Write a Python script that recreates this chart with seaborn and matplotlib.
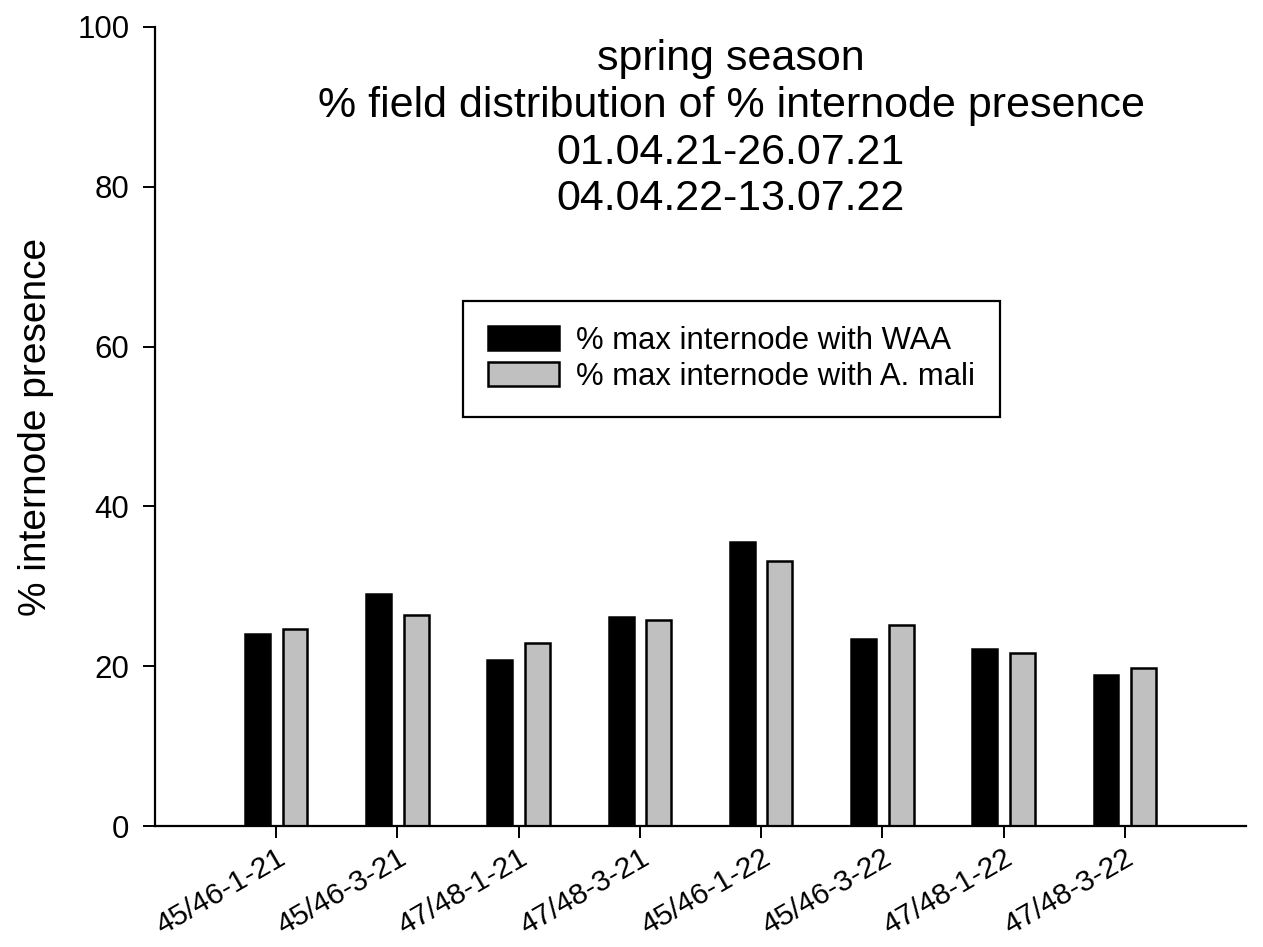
import matplotlib
matplotlib.use("Agg")
import matplotlib.pyplot as plt
import seaborn as sns
import pandas as pd

sites = ["45/46-1-21", "45/46-3-21", "47/48-1-21", "47/48-3-21",
         "45/46-1-22", "45/46-3-22", "47/48-1-22", "47/48-3-22"]
waa = [24.0, 29.0, 20.8, 26.1, 35.6, 23.4, 22.2, 18.9]
amali = [24.7, 26.4, 22.9, 25.8, 33.2, 25.2, 21.6, 19.8]
series_names = ["% max internode with WAA", "% max internode with A. mali"]
y_ticks = [0, 20, 40, 60, 80, 100]
title_lines = ["spring season", "% field distribution of % internode presence",
               "01.04.21-26.07.21", "04.04.22-13.07.22"]

df = pd.DataFrame({
    "site": sites * 2,
    "value": waa + amali,
    "series": [series_names[0]] * len(sites) + [series_names[1]] * len(sites),
})

sns.set_theme(style="ticks")
plt.rcParams["font.family"] = ["Liberation Sans", "DejaVu Sans"]
plt.rcParams["text.color"] = "black"

W, H = 1263, 947
fig = plt.figure(figsize=(W / 100, H / 100), dpi=100)
ax = fig.add_axes([155 / W, 1 - 826 / H, (1246 - 155) / W, (826 - 27) / H])

sns.barplot(data=df, x="site", y="value", hue="series", order=sites,
            hue_order=series_names, palette=["#000000", "#c0c0c0"],
            width=0.62, gap=0.34, edgecolor="black", linewidth=1.8,
            saturation=1, ax=ax)

ax.set_xlim(-1, 8)
ax.set_ylim(0, 100)
ax.set_yticks(y_ticks)
ax.set_yticklabels([str(v) for v in y_ticks], fontsize=22.5)
ax.set_xticks(range(len(sites)))
ax.set_xticklabels(sites, fontsize=21.5, rotation=30, ha="right",
                   rotation_mode="anchor")
ax.set_xlabel("")
ax.set_ylabel("% internode presence", fontsize=28, labelpad=17, color="black")
for s in ["top", "right"]:
    ax.spines[s].set_visible(False)
for s in ["left", "bottom"]:
    ax.spines[s].set_linewidth(1.6)
    ax.spines[s].set_color("black")
ax.tick_params(axis="both", direction="out", length=8.5, width=1.4,
               color="black", labelcolor="black")
ax.tick_params(axis="y", pad=10)
ax.tick_params(axis="x", pad=4)

x_center = (731 - 155) / (1246 - 155)
ax.text(x_center, 1 - (39 - 27) / (826 - 27),
        "\n".join(title_lines), transform=ax.transAxes, ha="center", va="top",
        fontsize=31, linespacing=1.22, color="black")

handles, labels = ax.get_legend_handles_labels()
ax.legend(handles=handles, labels=labels, loc="upper left",
          bbox_to_anchor=(463 / W, 1 - 301 / H), bbox_transform=fig.transFigure,
          fontsize=22.3, frameon=True, fancybox=False, shadow=False,
          handlelength=2.3, handleheight=0.8, handletextpad=0.55,
          labelspacing=0.2, borderpad=0.8, borderaxespad=0, title=None,
          labelcolor="black")
leg = ax.get_legend()
leg.get_frame().set_edgecolor("black")
leg.get_frame().set_linewidth(1.6)
leg.get_frame().set_alpha(1)

fig.savefig("out.png", dpi=100)
